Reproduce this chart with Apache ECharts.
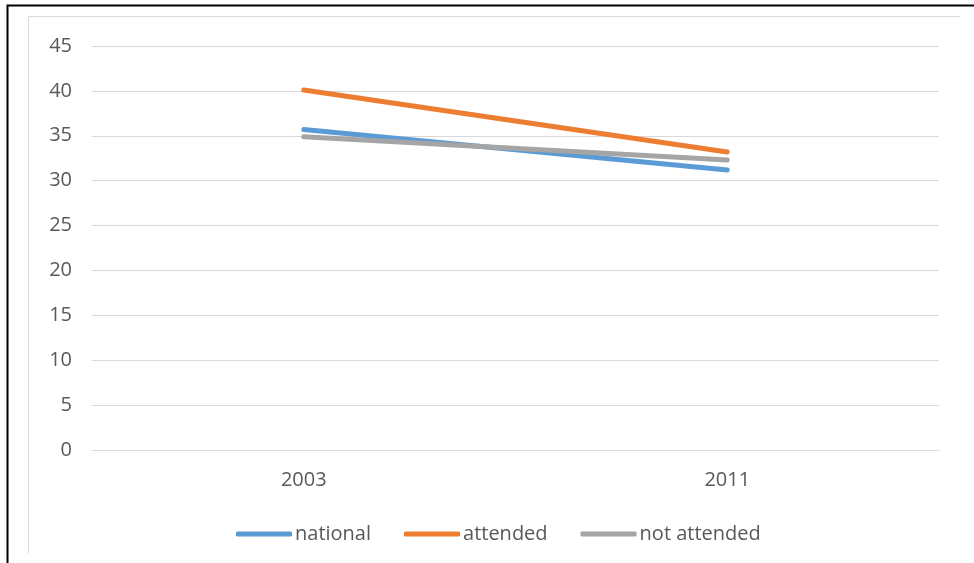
<!DOCTYPE html>
<html>
<head>
<meta charset="utf-8">
<script src="https://cdn.jsdelivr.net/npm/echarts@6/dist/echarts.min.js"></script>
<style>
html,body{margin:0;padding:0;background:#fff;}
#chart{width:974px;height:563px;}
</style>
</head>
<body>
<div id="chart"></div>
<script>
const categories = ['2003', '2011'];
const national = [35.7, 31.2];
const attended = [40.1, 33.2];
const notAttended = [34.9, 32.3];
const seriesNames = ['national', 'attended', 'not attended'];
const colors = ['#5B9BD5', '#ED7D31', '#A5A5A5'];

const font = '"Open Sans", "Liberation Sans", sans-serif';
const chart = echarts.init(document.getElementById('chart'), null, {renderer: 'canvas'});
const dataSets = [national, attended, notAttended];

chart.setOption({
  animation: false,
  backgroundColor: '#fff',
  color: colors,
  graphic: [
    {type: 'polyline', shape: {points: [[7.5, 563], [7.5, 5.5], [974, 5.5]]}, style: {stroke: '#000', lineWidth: 2, fill: null}, silent: true},
    {type: 'polyline', shape: {points: [[28.5, 553], [28.5, 16.5], [960, 16.5]]}, style: {stroke: '#d9d9d9', lineWidth: 1, fill: null}, silent: true}
  ],
  grid: {left: 92, right: 35, top: 46, bottom: 113, containLabel: false},
  legend: {
    data: seriesNames,
    left: 236,
    top: 524,
    padding: 0,
    itemWidth: 56,
    itemHeight: 5,
    itemGap: 33,
    icon: 'roundRect',
    textStyle: {fontFamily: font, fontSize: 20, color: '#595959', padding: [0, 0, 0, -2]}
  },
  xAxis: {
    type: 'category',
    data: categories,
    boundaryGap: true,
    axisLine: {show: true, lineStyle: {color: '#d9d9d9', width: 1}},
    axisTick: {show: false},
    axisLabel: {fontFamily: font, fontSize: 20, color: '#595959', margin: 20}
  },
  yAxis: {
    type: 'value',
    min: 0,
    max: 45,
    interval: 5,
    axisLine: {show: false},
    axisTick: {show: false},
    splitLine: {lineStyle: {color: '#d9d9d9', width: 1}},
    axisLabel: {fontFamily: font, fontSize: 20, color: '#595959', margin: 20}
  },
  series: seriesNames.map((name, i) => ({
    name: name,
    type: 'line',
    data: dataSets[i],
    symbol: 'none',
    lineStyle: {width: 5, color: colors[i], cap: 'round'},
    itemStyle: {color: colors[i]}
  }))
});
</script>
</body>
</html>
